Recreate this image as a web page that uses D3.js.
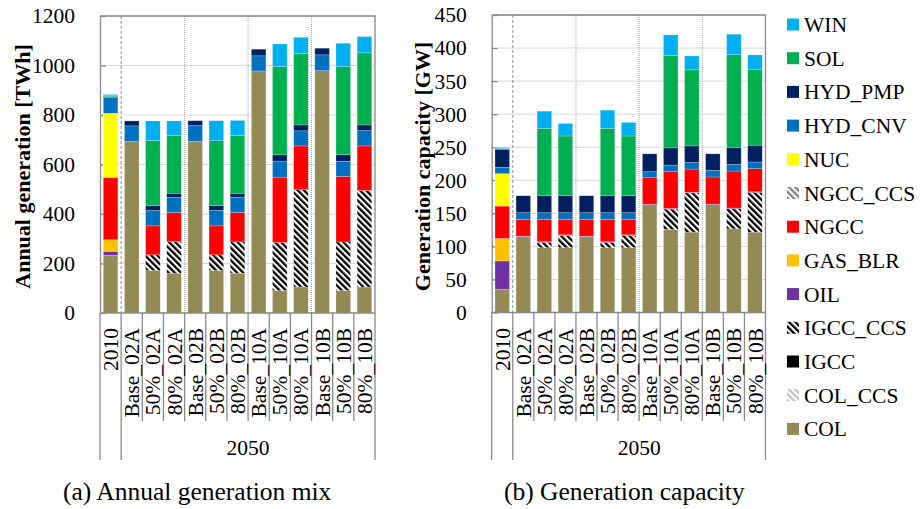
<!DOCTYPE html>
<html>
<head>
<meta charset="utf-8">
<script src="https://cdn.jsdelivr.net/npm/d3@7"></script>
<style>
  body { margin: 0; background: #fff; }
  text { font-family: "Liberation Serif", "Times New Roman", serif; fill: #000; }
</style>
</head>
<body>
<div id="chart"></div>
<script>
////////////////////////////////////////////////////////////
//////////////////////// Data //////////////////////////////
////////////////////////////////////////////////////////////

var categories = ["2010", "Base_02A", "50%_02A", "80%_02A", "Base_02B", "50%_02B", "80%_02B",
                  "Base_10A", "50%_10A", "80%_10A", "Base_10B", "50%_10B", "80%_10B"];

// stacking order, bottom to top (legend shows it reversed)
var techs = ["COL", "COL_CCS", "IGCC", "IGCC_CCS", "OIL", "GAS_BLR", "NGCC", "NGCC_CCS",
             "NUC", "HYD_CNV", "HYD_PMP", "SOL", "WIN"];

// (a) annual generation [TWh]
var genCOL      = [233, 693, 172, 161, 693, 172, 161, 978, 91, 105, 979, 91, 105];
var genCOL_CCS  = [0, 0, 0, 0, 0, 0, 0, 0, 0, 0, 0, 0, 0];
var genIGCC     = [0, 0, 0, 0, 0, 0, 0, 0, 0, 0, 0, 0, 0];
var genIGCC_CCS = [0, 0, 63, 128, 0, 63, 126, 0, 194, 393, 0, 196, 390];
var genOIL      = [16, 0, 0, 0, 0, 0, 0, 0, 0, 0, 0, 0, 0];
var genGAS_BLR  = [47, 0, 0, 0, 0, 0, 0, 0, 0, 0, 0, 0, 0];
var genNGCC     = [252, 0, 117, 117, 0, 117, 119, 0, 264, 177, 0, 265, 180];
var genNGCC_CCS = [0, 0, 0, 0, 0, 0, 0, 0, 0, 0, 0, 0, 0];
var genNUC      = [259, 0, 0, 0, 0, 0, 0, 0, 0, 0, 0, 0, 0];
var genHYD_CNV  = [65, 63, 62, 62, 64, 63, 62, 61, 63, 61, 64, 61, 62];
var genHYD_PMP  = [2, 20, 21, 16, 20, 20, 16, 27, 27, 24, 27, 27, 23];
var genSOL      = [4, 0, 262, 233, 0, 261, 233, 0, 357, 289, 0, 356, 291];
var genWIN      = [5, 0, 79, 59, 0, 81, 61, 0, 91, 65, 0, 94, 66];

// (b) generation capacity [GW]
var capCOL      = [35, 114.5, 98, 98, 114.5, 98, 98, 163, 125.6, 121.6, 163, 126.6, 121.6];
var capCOL_CCS  = [0, 0, 0, 0, 0, 0, 0, 0, 0, 0, 0, 0, 0];
var capIGCC     = [0, 0, 0, 0, 0, 0, 0, 0, 0, 0, 0, 0, 0];
var capIGCC_CCS = [0, 0, 8, 18.5, 0, 8, 18.5, 0, 30.8, 59.4, 0, 30.4, 60];
var capOIL      = [43, 1, 1, 1, 1, 1, 1, 1, 1, 1, 1, 1, 1];
var capGAS_BLR  = [34, 0, 0, 0, 0, 0, 0, 0, 0, 0, 0, 0, 0];
var capNGCC     = [49, 25.5, 34, 23.5, 25.5, 34, 23.5, 40, 55.6, 35, 41, 56, 35];
var capNGCC_CCS = [0, 0, 0, 0, 0, 0, 0, 0, 0, 0, 0, 0, 0];
var capNUC      = [49, 0, 0, 0, 0, 0, 0, 0, 0, 0, 0, 0, 0];
var capHYD_CNV  = [9.5, 10, 10, 10, 10, 10, 10, 9, 10, 10, 10, 10, 10];
var capHYD_PMP  = [27.5, 25.6, 25.6, 25.6, 25.6, 25.6, 25.6, 27, 26, 25, 25, 26, 25.5];
var capSOL      = [1, 0, 102, 90.4, 0, 102, 90.4, 0, 140, 115, 0, 140, 115];
var capWIN      = [1.5, 0, 26, 19, 0, 27.5, 20.6, 0, 31, 21, 0, 31, 21.5];

var genTicks = [0, 200, 400, 600, 800, 1000, 1200];
var capTicks = [0, 50, 100, 150, 200, 250, 300, 350, 400, 450];

var genSeries = {COL: genCOL, COL_CCS: genCOL_CCS, IGCC: genIGCC, IGCC_CCS: genIGCC_CCS, OIL: genOIL,
  GAS_BLR: genGAS_BLR, NGCC: genNGCC, NGCC_CCS: genNGCC_CCS, NUC: genNUC, HYD_CNV: genHYD_CNV,
  HYD_PMP: genHYD_PMP, SOL: genSOL, WIN: genWIN};
var capSeries = {COL: capCOL, COL_CCS: capCOL_CCS, IGCC: capIGCC, IGCC_CCS: capIGCC_CCS, OIL: capOIL,
  GAS_BLR: capGAS_BLR, NGCC: capNGCC, NGCC_CCS: capNGCC_CCS, NUC: capNUC, HYD_CNV: capHYD_CNV,
  HYD_PMP: capHYD_PMP, SOL: capSOL, WIN: capWIN};

function toRows(series) {
	return categories.map(function(c, i) {
		var row = {cat: c};
		techs.forEach(function(t) { row[t] = series[t][i]; });
		return row;
	});
}

////////////////////////////////////////////////////////////
//////////////////////// Set-Up ////////////////////////////
////////////////////////////////////////////////////////////

var W = 922, H = 509;
var axisCol = "#898989", gridCol = "#d9d9d9";

var fills = {
	COL: "#948a54", COL_CCS: "url(#pat-COL_CCS)", IGCC: "#000000", IGCC_CCS: "url(#pat-IGCC_CCS)",
	OIL: "#7030a0", GAS_BLR: "#ffc000", NGCC: "#ff0000", NGCC_CCS: "url(#pat-NGCC_CCS)",
	NUC: "#ffff00", HYD_CNV: "#0070c0", HYD_PMP: "#002060", SOL: "#00b050", WIN: "#00b0f0"
};

var svg = d3.select("#chart").append("svg")
	.attr("width", W)
	.attr("height", H);

var defs = svg.append("defs");
//Diagonal stripe patterns ("\" direction)
[["IGCC_CCS", "#000", "#fff"], ["NGCC_CCS", "#808080", "#fff"], ["COL_CCS", "#bfbfbf", "#fff"]].forEach(function(p) {
	var pat = defs.append("pattern")
		.attr("id", "pat-" + p[0])
		.attr("patternUnits", "userSpaceOnUse")
		.attr("width", 4.4).attr("height", 4.4)
		.attr("patternTransform", "rotate(-45)");
	pat.append("rect").attr("width", 4.4).attr("height", 4.4).attr("fill", p[2]);
	pat.append("rect").attr("width", 2.3).attr("height", 4.4).attr("fill", p[1]);
});

////////////////////////////////////////////////////////////
//////////////////////// Panels ////////////////////////////
////////////////////////////////////////////////////////////

function drawPanel(o) {
	var g = svg.append("g");
	var n = categories.length;
	var step = (o.x1 - o.x0) / n;

	var x = d3.scaleBand()
		.domain(categories)
		.range([o.x0, o.x1])
		.paddingInner(0.31)
		.paddingOuter(0.155);

	var y = d3.scaleLinear()
		.domain([0, o.max])
		.range([o.yBot, o.yTop]);

	//gridlines
	g.selectAll("line.grid")
		.data(o.ticks.slice(1))
		.enter().append("line")
		.attr("class", "grid")
		.attr("x1", o.x0).attr("x2", o.x1)
		.attr("y1", function(d) { return y(d); })
		.attr("y2", function(d) { return y(d); })
		.attr("stroke", gridCol).attr("stroke-width", 1);

	//y axis with inward ticks
	var yAxis = d3.axisLeft(y)
		.tickValues(o.ticks)
		.tickFormat(d3.format("d"))
		.tickSize(-6).tickPadding(25).tickSizeOuter(0);
	var ya = g.append("g")
		.attr("transform", "translate(" + o.x0 + ",0)")
		.call(yAxis);
	ya.select(".domain").attr("stroke", axisCol).attr("stroke-width", 1.3);
	ya.selectAll(".tick line").attr("stroke", axisCol).attr("stroke-width", 1.3);
	ya.selectAll(".tick text")
		.attr("font-size", "21.5px")
		.attr("fill", "#000");

	//bars
	var stack = d3.stack().keys(techs);
	var layers = stack(toRows(o.series));

	g.selectAll("g.layer")
		.data(layers)
		.enter().append("g")
		.attr("class", "layer")
		.attr("fill", function(d) { return fills[d.key]; })
		.selectAll("rect")
		.data(function(d) { return d.filter(function(s) { return s[1] - s[0] > 0; }); })
		.enter().append("rect")
		.attr("x", function(d) { return x(d.data.cat); })
		.attr("width", x.bandwidth())
		.attr("y", function(d) { return y(d[1]); })
		.attr("height", function(d) { return y(d[0]) - y(d[1]); })
		.attr("stroke", "#ffffff")
		.attr("stroke-opacity", 0.45)
		.attr("stroke-width", 0.5);

	//group separators inside the plot
	[1, 4, 7, 10].forEach(function(k) {
		g.append("line")
			.attr("x1", o.x0 + k * step).attr("x2", o.x0 + k * step)
			.attr("y1", o.yTop).attr("y2", o.yBot)
			.attr("stroke", k === 1 ? "#8c8c8c" : "#a6a6a6")
			.attr("stroke-width", 1)
			.attr("stroke-dasharray", k === 1 ? "3,2" : "1,1");
	});

	//plot frame (top + right)
	g.append("path")
		.attr("d", "M" + o.x0 + "," + o.yTop + "H" + o.x1 + "V" + o.yBot)
		.attr("fill", "none").attr("stroke", axisCol).attr("stroke-width", 1.3);

	//x axis line
	g.append("line")
		.attr("x1", o.x0).attr("x2", o.x1)
		.attr("y1", o.yBot).attr("y2", o.yBot)
		.attr("stroke", axisCol).attr("stroke-width", 1.3);

	//category separators below the axis
	d3.range(n + 1).forEach(function(k) {
		var long = (k === 0 || k === 1 || k === n);
		g.append("line")
			.attr("x1", o.x0 + k * step).attr("x2", o.x0 + k * step)
			.attr("y1", o.yBot).attr("y2", long ? 460 : 421)
			.attr("stroke", axisCol).attr("stroke-width", 1.3);
	});

	//category labels
	g.selectAll("text.cat")
		.data(categories)
		.enter().append("text")
		.attr("class", "cat")
		.attr("transform", function(d) {
			return "translate(" + (x(d) + x.bandwidth() / 2) + ",328) rotate(-90)";
		})
		.attr("dy", "0.35em")
		.attr("text-anchor", "end")
		.style("font-size", "21.5px")
		.text(function(d) { return d; });

	g.append("text")
		.attr("x", (o.x0 + step + o.x1) / 2)
		.attr("y", 455)
		.attr("text-anchor", "middle")
		.style("font-size", "21.5px")
		.text("2050");

	//axis title
	g.append("text")
		.attr("transform", "translate(" + o.titleX + ",166.5) rotate(-90)")
		.attr("dy", "0.35em")
		.attr("text-anchor", "middle")
		.style("font-size", "22px")
		.style("font-weight", "bold")
		.text(o.title);

	//caption
	g.append("text")
		.attr("x", o.capX)
		.attr("y", 500)
		.style("font-size", "25.5px")
		.text(o.caption);
}

drawPanel({x0: 100, x1: 375, yTop: 16, yBot: 313, max: 1200, ticks: genTicks, series: genSeries,
	title: "Annual generation [TWh]", titleX: 22, caption: "(a) Annual generation mix", capX: 63});

drawPanel({x0: 491.7, x1: 765.5, yTop: 15, yBot: 312.5, max: 450, ticks: capTicks, series: capSeries,
	title: "Generation capacity [GW]", titleX: 422, caption: "(b) Generation capacity", capX: 504});

////////////////////////////////////////////////////////////
//////////////////////// Legend ////////////////////////////
////////////////////////////////////////////////////////////

var legendKeys = techs.slice().reverse();
var legend = svg.append("g").selectAll("g.leg")
	.data(legendKeys)
	.enter().append("g")
	.attr("class", "leg")
	.attr("transform", function(d, i) { return "translate(787," + (24.5 + i * 33.7) + ")"; });

legend.append("rect")
	.attr("x", 0).attr("y", -6)
	.attr("width", 12).attr("height", 12)
	.attr("fill", function(d) { return fills[d]; });

legend.append("text")
	.attr("x", 17)
	.attr("y", 7.5)
	.style("font-size", "21.5px")
	.text(function(d) { return d; });
</script>
</body>
</html>
